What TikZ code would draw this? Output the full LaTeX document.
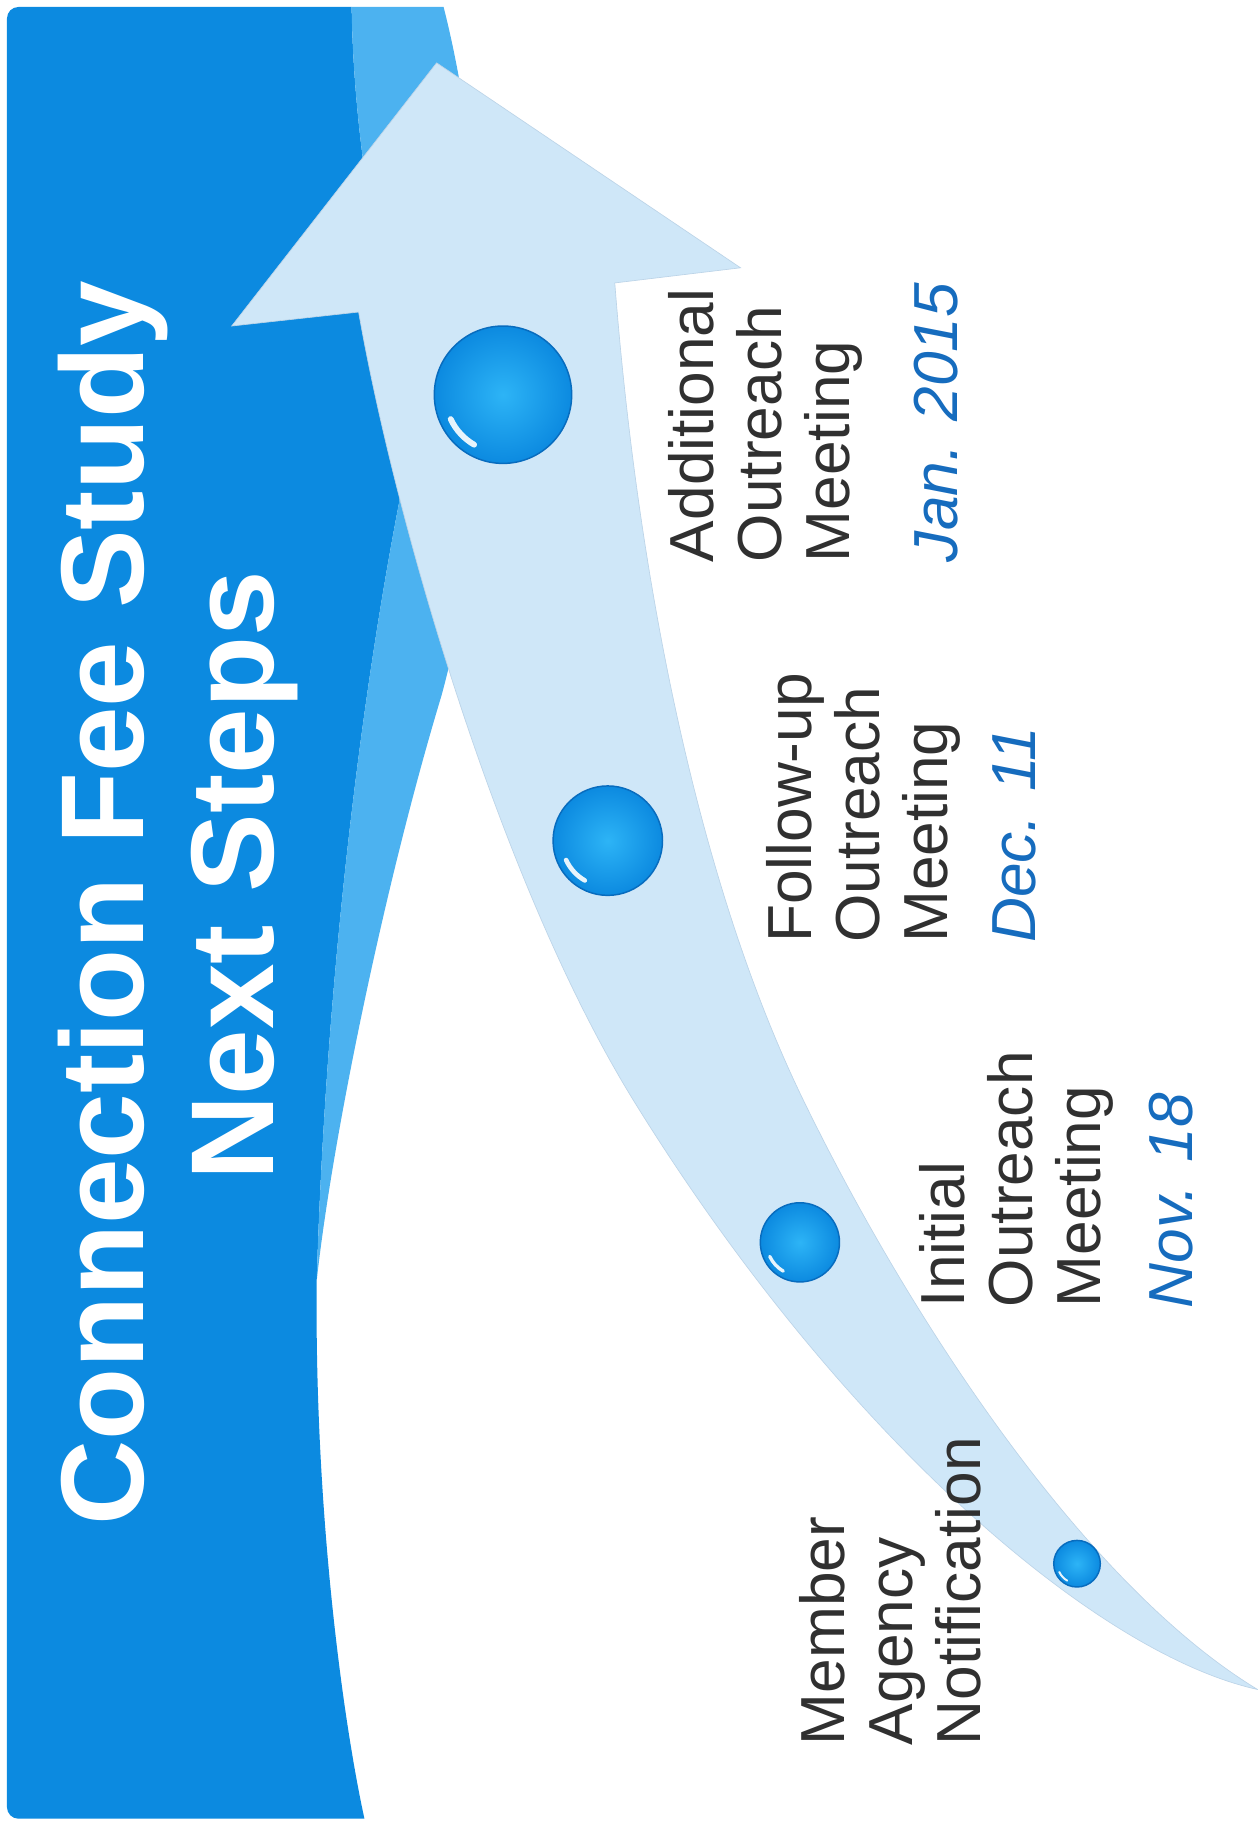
\documentclass[tikz,border=0pt]{standalone}
\usepackage{fontspec}
\setmainfont{Liberation Sans}
\definecolor{panelblue}{RGB}{12,138,224}
\definecolor{bandblue}{RGB}{76,178,240}
\definecolor{arrowblue}{RGB}{207,231,248}
\definecolor{arrowedge}{RGB}{188,212,232}
\definecolor{dotblue}{RGB}{12,138,224}
\definecolor{dotlight}{RGB}{45,180,246}
\definecolor{dotrim}{RGB}{8,108,190}
\definecolor{textgray}{RGB}{48,48,48}
\definecolor{dateblue}{RGB}{22,108,190}
\tikzset{
  steplabel/.style={rotate=90, anchor=north west, align=left, inner sep=0pt, text=textgray, font=\fontsize{38}{41.6}\selectfont},
  datelabel/.style={rotate=90, anchor=base west, inner sep=0pt, text=dateblue, font=\fontsize{38}{41.6}\selectfont\itshape},
  titlelabel/.style={rotate=90, anchor=base, inner sep=0pt, text=white, font=\fontsize{72}{80}\selectfont\bfseries},
  dot/.style={circle, draw=dotrim, line width=0.9pt, inner color=dotlight, outer color=dotblue, inner sep=0pt, outer sep=0pt}
}
\begin{document}
\begin{tikzpicture}[x=0.025cm, y=-0.025cm]
    \useasboundingbox (0,0) rectangle (1080,1570);
    \fill[white] (0,0) rectangle (1080,1570);
    % blue panel
    \fill[panelblue] (302,6) [rounded corners=7pt] -- (6,6) -- (6,1562) [sharp corners] -- (313,1562)
        .. controls (295,1480) and (270,1300) .. (272,1100)
        .. controls (278,900) and (300,650) .. (345,420)
        .. controls (360,330) and (305,200) .. (302,6) -- cycle;
    \fill[bandblue] (302,6) -- (381,6) .. controls (430,200) and (420,450) .. (379,598)
        .. controls (330,760) and (285,980) .. (272,1100)
        .. controls (278,900) and (300,650) .. (345,420)
        .. controls (360,330) and (305,200) .. (302,6) -- cycle;
    % arrow
    \filldraw[fill=arrowblue, draw=arrowedge, line width=0.4pt] (375,54) -- (636,230) -- (528,243)
        .. controls (548,500) and (600,760) .. (690,945)
        .. controls (780,1130) and (930,1360) .. (1080,1451)
        .. controls (940,1420) and (720,1230) .. (544,945)
        .. controls (430,760) and (340,450) .. (308,268)
        -- (199,280) -- cycle;
    % dots
    \foreach \name/\x/\y/\d in {dotA/432/339/118, dotB/522/722/94, dotC/687/1067/68, dotD/925/1343/40} {
        \node[dot, minimum size=\d*0.025cm] (\name) at (\x,\y) {};
        \draw[white, opacity=0.9, line width=\d*0.03pt, line cap=round] ([shift={(205:{\d*0.0105cm})}]\name.center) arc[start angle=205, end angle=240, radius=\d*0.0105cm];
    }
    % title
    \node[titlelabel] (title) at (123,776) {Connection Fee Study};
    \node[titlelabel] (subtitle) at (235,752) {Next Steps};
    % steps
    \node[steplabel] (additional) at (574,483) {Additional\\Outreach\\Meeting};
    \node[datelabel] (jan) at (822,483) {Jan. 2015};
    \node[steplabel] (followup) at (658,810) {Follow-up\\Outreach\\Meeting};
    \node[datelabel] (dec) at (889,810) {Dec. 11};
    \node[steplabel] (initial) at (789,1123) {Initial\\Outreach\\Meeting};
    \node[datelabel] (nov) at (1024,1124) {Nov. 18};
    \node[steplabel] (member) at (686,1499) {Member\\Agency\\Notification};
\end{tikzpicture}
\end{document}
